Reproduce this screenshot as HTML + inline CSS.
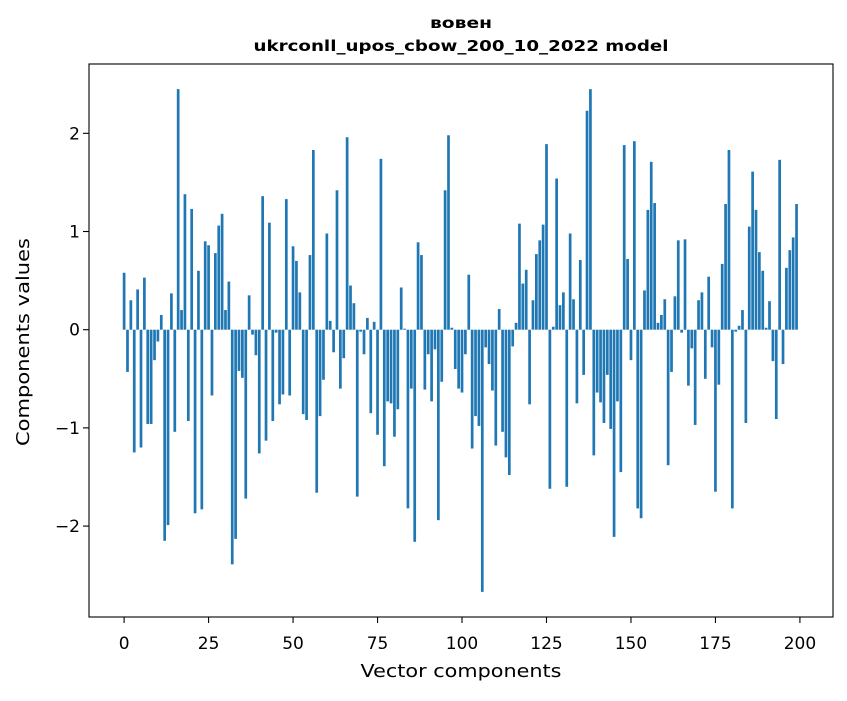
<!DOCTYPE html>
<html><head><meta charset="utf-8"><style>
body{margin:0;background:#fff}
svg text{font-family:"DejaVu Sans","Liberation Sans",sans-serif;fill:#000}
</style></head><body>
<svg id="chart" width="847" height="696" viewBox="0 0 847 696" xmlns="http://www.w3.org/2000/svg">
<rect x="0" y="0" width="847" height="696" fill="#fff"/>
<text x="461" y="28" text-anchor="middle" font-size="15" font-weight="bold" textLength="62" lengthAdjust="spacingAndGlyphs">вовен</text>
<text x="461" y="51" text-anchor="middle" font-size="15" font-weight="bold" textLength="415" lengthAdjust="spacingAndGlyphs">ukrconll_upos_cbow_200_10_2022 model</text>
<g id="bars"></g>
<g id="axes"></g>
<text x="461" y="677" text-anchor="middle" font-size="18" textLength="201" lengthAdjust="spacingAndGlyphs">Vector components</text>
<text transform="translate(29,342) rotate(-90)" text-anchor="middle" font-size="18" textLength="208" lengthAdjust="spacingAndGlyphs">Components values</text>
</svg>
<script>
const values = [0.58,-0.43,0.30,-1.25,0.41,-1.20,0.53,-0.96,-0.96,-0.31,-0.12,0.15,-2.15,-1.99,0.37,-1.04,2.45,0.20,1.38,-0.93,1.23,-1.87,0.60,-1.83,0.90,0.86,-0.67,0.78,1.06,1.18,0.20,0.49,-2.39,-2.13,-0.42,-0.49,-1.72,0.35,-0.05,-0.26,-1.26,1.36,-1.13,1.09,-0.93,-0.03,-0.76,-0.66,1.33,-0.67,
0.85,0.70,0.38,-0.86,-0.92,0.76,1.83,-1.66,-0.88,-0.51,0.98,0.09,-0.23,1.42,-0.60,-0.29,1.96,0.45,0.27,-1.70,-0.02,-0.25,0.12,-0.85,0.08,-1.07,1.74,-1.39,-0.73,-0.75,-1.09,-0.81,0.43,0.01,-1.82,-0.60,-2.16,0.89,0.76,-0.61,-0.25,-0.73,-0.20,-1.94,-0.53,1.42,1.98,0.02,-0.40,-0.60,
-0.64,-0.25,0.56,-1.21,-0.88,-0.98,-2.67,-0.18,-0.35,-0.62,-1.18,0.21,-1.04,-1.30,-1.48,-0.17,0.07,1.08,0.47,0.61,-0.76,0.30,0.77,0.91,1.07,1.89,-1.62,0.03,1.54,0.25,0.38,-1.60,0.98,0.31,-0.75,0.71,-0.46,2.23,2.45,-1.28,-0.64,-0.74,-0.95,-0.46,-1.01,-2.11,-0.73,-1.45,1.88,0.72,
-0.31,1.92,-1.82,-1.92,0.40,1.22,1.71,1.29,0.07,0.15,0.31,-1.38,-0.43,0.34,0.91,-0.03,0.92,-0.57,-0.19,-0.97,0.30,0.38,-0.50,0.54,-0.18,-1.65,-0.56,0.67,1.28,1.83,-1.82,-0.02,0.04,0.20,-0.95,1.05,1.61,1.22,0.79,0.60,0.02,0.29,-0.32,-0.91,1.73,-0.35,0.63,0.81,0.94,1.28];
const xTicks = [0,25,50,75,100,125,150,175,200];
const yTicks = [-2,-1,0,1,2];
const yTickLabels = ["\u22122","\u22121","0","1","2"];

const L=89,R=833,T=64,B=617;
const xMin=-10.39,xMax=209.79,yMin=-2.926,yMax=2.706;
function sx(v){return L+(v-xMin)/(xMax-xMin)*(R-L);}
function sy(v){return B-(v-yMin)/(yMax-yMin)*(B-T);}
const NS="http://www.w3.org/2000/svg";
const bars=document.getElementById('bars');
values.forEach((v,i)=>{
  const r=document.createElementNS(NS,'rect');
  const x0=sx(i-0.4),x1=sx(i+0.4);
  const y0=sy(Math.max(v,0)),y1=sy(Math.min(v,0));
  r.setAttribute('x',x0);r.setAttribute('width',x1-x0);
  r.setAttribute('y',y0);r.setAttribute('height',Math.max(y1-y0,0.01));
  r.setAttribute('fill','#1f77b4');
  
  
  bars.appendChild(r);
});
const axes=document.getElementById('axes');
const frame=document.createElementNS(NS,'rect');
frame.setAttribute('x',L);frame.setAttribute('y',T);frame.setAttribute('width',R-L);frame.setAttribute('height',B-T);
frame.setAttribute('fill','none');frame.setAttribute('stroke','#000');frame.setAttribute('stroke-width','1.1');


axes.appendChild(frame);
xTicks.forEach(t=>{
  const x=sx(t);
  const l=document.createElementNS(NS,'line');
  l.setAttribute('x1',x);l.setAttribute('x2',x);l.setAttribute('y1',B);l.setAttribute('y2',B+6);l.setAttribute('stroke','#000');l.setAttribute('stroke-width','1.1');
  
  
  axes.appendChild(l);
  const tx=document.createElementNS(NS,'text');
  tx.setAttribute('x',x);tx.setAttribute('y',649);tx.setAttribute('text-anchor','middle');tx.setAttribute('font-size','17');
  tx.textContent=t;
  
  
  axes.appendChild(tx);
});
yTicks.forEach((t,i)=>{
  const y=sy(t);
  const l=document.createElementNS(NS,'line');
  l.setAttribute('x1',L-6);l.setAttribute('x2',L);l.setAttribute('y1',y);l.setAttribute('y2',y);l.setAttribute('stroke','#000');l.setAttribute('stroke-width','1.1');
  
  
  axes.appendChild(l);
  const tx=document.createElementNS(NS,'text');
  tx.setAttribute('x',L-9);tx.setAttribute('y',y+6);tx.setAttribute('text-anchor','end');tx.setAttribute('font-size','17');
  tx.textContent=yTickLabels[i];
  
  
  axes.appendChild(tx);
});
</script>
</body></html>
